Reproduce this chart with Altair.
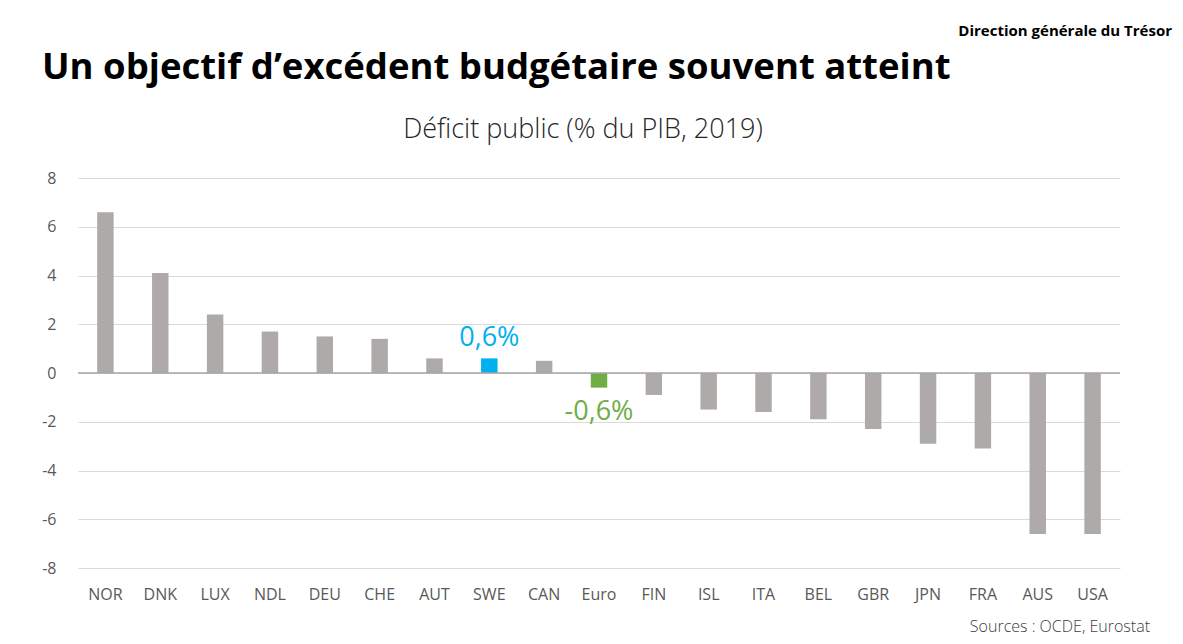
import altair as alt
import pandas as pd

countries = ["NOR", "DNK", "LUX", "NDL", "DEU", "CHE", "AUT", "SWE", "CAN", "Euro",
             "FIN", "ISL", "ITA", "BEL", "GBR", "JPN", "FRA", "AUS", "USA"]
values = [6.6, 4.1, 2.4, 1.7, 1.5, 1.4, 0.6, 0.6, 0.5, -0.6,
          -0.9, -1.5, -1.6, -1.9, -2.3, -2.9, -3.1, -6.6, -6.6]
groups = ["autre"] * 7 + ["SWE", "autre", "Euro"] + ["autre"] * 9

title_text = "Un objectif d\u2019excédent budgétaire souvent atteint"
subtitle_text = "Déficit public (% du PIB, 2019)"
org_text = "Direction générale du Trésor"
source_text = "Sources : OCDE, Eurostat"

df = pd.DataFrame({"pays": countries, "valeur": values, "groupe": groups})
df["label"] = df["valeur"].map(lambda v: f"{v:.1f}%".replace(".", ","))

W, H = 1042, 390
FONT = "Open Sans"

x_enc = alt.X("pays:N", sort=countries, scale=alt.Scale(paddingInner=0.7, paddingOuter=0.35),
              axis=alt.Axis(title=None, labelAngle=0, domain=False, ticks=False,
                            labelPadding=18, labelFontSize=16, labelColor="#595959",
                            labelFont=FONT, grid=False))
y_scale = alt.Scale(domain=[-8, 8], nice=False)

bars = alt.Chart(df).mark_bar().encode(
    x=x_enc,
    y=alt.Y("valeur:Q", scale=y_scale,
            axis=alt.Axis(title=None, values=list(range(-8, 9, 2)), domain=False, ticks=False,
                          labelExpr="'' + datum.value",
                          labelPadding=22, labelFontSize=16, labelColor="#595959",
                          labelFont=FONT, gridColor="#d9d9d9", gridWidth=1)),
    color=alt.Color("groupe:N",
                    scale=alt.Scale(domain=["autre", "SWE", "Euro"],
                                    range=["#aeaaaa", "#00b0f0", "#70ad47"]),
                    legend=None),
)

zero = alt.Chart(pd.DataFrame({"z": [0]})).mark_rule(color="#a6a6a6", strokeWidth=1.5).encode(
    y=alt.Y("z:Q", scale=y_scale)
)

lab_swe = alt.Chart(df[df["pays"] == "SWE"]).mark_text(
    color="#00b0f0", fontSize=27, font=FONT, baseline="alphabetic", dy=-12
).encode(x=alt.X("pays:N", sort=countries), y=alt.Y("valeur:Q", scale=y_scale), text="label:N")

lab_euro = alt.Chart(df[df["pays"] == "Euro"]).mark_text(
    color="#70ad47", fontSize=27, font=FONT, baseline="alphabetic", dy=32
).encode(x=alt.X("pays:N", sort=countries), y=alt.Y("valeur:Q", scale=y_scale), text="label:N")

def txt(t, x, y, size, weight, align, color, font=FONT):
    return alt.Chart(pd.DataFrame({"t": [t]})).mark_text(
        fontSize=size, fontWeight=weight, align=align, baseline="alphabetic",
        color=color, font=font
    ).encode(x=alt.value(x), y=alt.value(y), text="t:N")

title = txt(title_text, -36, -99, 36.5, "bold", "left", "#000000")
subtitle = txt(subtitle_text, 505, -40, 27, 300, "center", "#262626")
org = txt(org_text, 1094, -142, 15, "bold", "right", "#000000")
source = txt(source_text, 1072, 454, 16, 300, "right", "#404040")

chart = alt.layer(bars, zero, lab_swe, lab_euro, title, subtitle, org, source).properties(
    width=W, height=H,
    padding={"left": 70, "top": 170, "right": 55, "bottom": 68},
    autosize=alt.AutoSizeParams(type="none"),
).configure(background="white").configure_view(strokeWidth=0)

chart.save("out.html", embed_options={"renderer": "svg", "actions": False})
